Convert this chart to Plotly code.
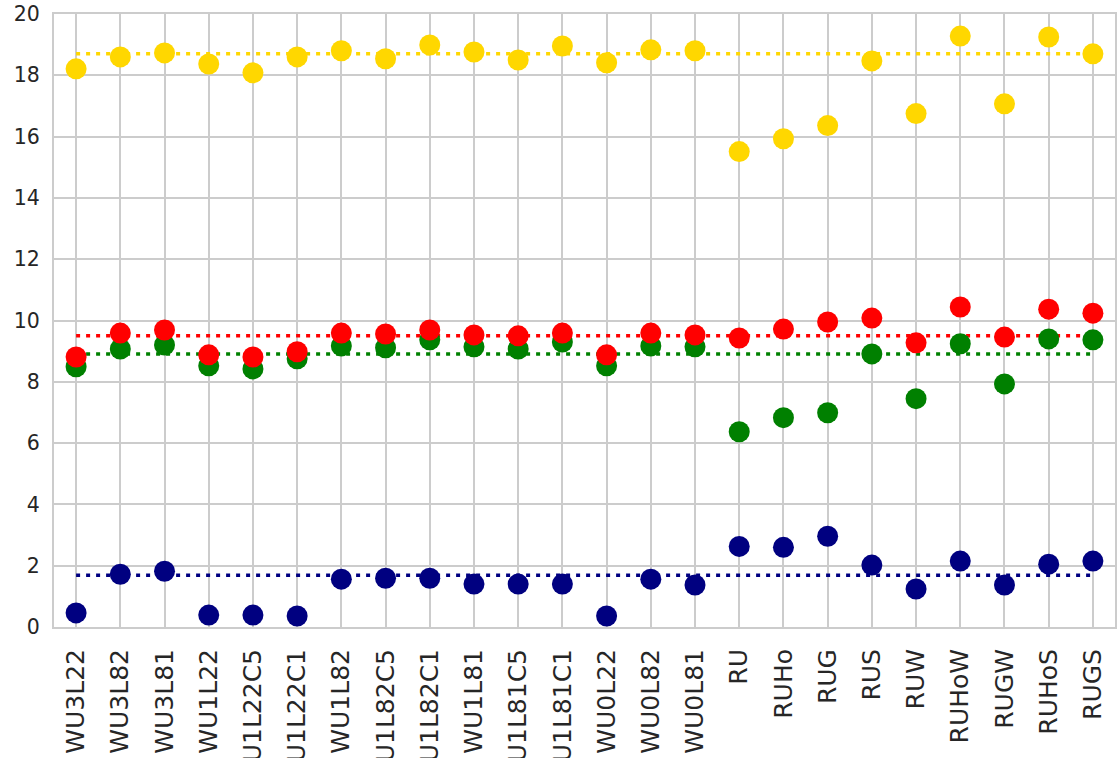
import plotly.graph_objects as go

categories = ["WU3L22", "WU3L82", "WU3L81", "WU1L22", "WU1L22C5", "WU1L22C1",
              "WU1L82", "WU1L82C5", "WU1L82C1", "WU1L81", "WU1L81C5", "WU1L81C1",
              "WU0L22", "WU0L82", "WU0L81", "RU", "RUHo", "RUG", "RUS", "RUW",
              "RUHoW", "RUGW", "RUHoS", "RUGS"]

yellow_vals = [18.21, 18.60, 18.73, 18.37, 18.08, 18.60, 18.80, 18.54, 18.99, 18.76,
               18.50, 18.96, 18.41, 18.83, 18.80, 15.51, 15.93, 16.36, 18.47, 16.75,
               19.28, 17.07, 19.25, 18.70]
red_vals = [8.81, 9.59, 9.69, 8.88, 8.81, 8.98, 9.59, 9.56, 9.69, 9.53,
            9.50, 9.59, 8.88, 9.59, 9.53, 9.43, 9.72, 9.95, 10.08, 9.27,
            10.44, 9.46, 10.37, 10.24]
green_vals = [8.49, 9.07, 9.20, 8.52, 8.42, 8.75, 9.17, 9.11, 9.37, 9.14,
              9.07, 9.30, 8.52, 9.17, 9.14, 6.37, 6.83, 6.99, 8.91, 7.45,
              9.24, 7.93, 9.40, 9.37]
navy_vals = [0.46, 1.72, 1.82, 0.39, 0.39, 0.36, 1.56, 1.59, 1.59, 1.40,
             1.40, 1.40, 0.36, 1.56, 1.37, 2.63, 2.60, 2.96, 2.02, 1.24,
             2.15, 1.37, 2.05, 2.15]

ref_levels = {"gold": 18.70, "red": 9.50, "green": 8.91, "navy": 1.69}
y_ticks = [0, 2, 4, 6, 8, 10, 12, 14, 16, 18, 20]

fig = go.Figure()

series = [("gold", "#FFD700", yellow_vals), ("green", "#008000", green_vals),
          ("red", "#FF0000", red_vals), ("navy", "#000080", navy_vals)]

for name, color, vals in series:
    lvl = ref_levels[name]
    fig.add_trace(go.Scatter(
        x=[categories[0], categories[-1]], y=[lvl, lvl], mode="lines",
        line=dict(color=color, width=3.5, dash="4px,6px"),
        showlegend=False, hoverinfo="skip"))

for name, color, vals in series:
    fig.add_trace(go.Scatter(
        x=categories, y=vals, mode="markers",
        marker=dict(color=color, size=21, line=dict(width=0)),
        showlegend=False, name=name))

fig.update_layout(
    width=1117, height=758,
    margin=dict(l=54, r=2, t=14, b=131),
    plot_bgcolor="white", paper_bgcolor="white",
    font=dict(family="DejaVu Sans", size=20, color="#262626"),
)
fig.update_xaxes(
    type="category", categoryorder="array", categoryarray=categories,
    range=[-0.5, len(categories) - 0.5],
    tickangle=-90, tickfont=dict(size=25),
    showgrid=True, gridcolor="#cccccc", gridwidth=2,
    showline=True, linecolor="#cccccc", linewidth=2, mirror=True,
    ticks="", ticklabelstandoff=10, automargin=False,
)
fig.update_yaxes(
    range=[0, 20], tickvals=y_ticks, tickfont=dict(size=20.5),
    showgrid=True, gridcolor="#cccccc", gridwidth=2,
    showline=True, linecolor="#cccccc", linewidth=2, mirror=True,
    zeroline=False, ticks="", ticklabelstandoff=8, automargin=False,
)

# remove the page's default body margin so the figure fills the window exactly
fig.write_html("out.html", config={"displayModeBar": False},
               post_script="document.body.style.margin='0px';")
